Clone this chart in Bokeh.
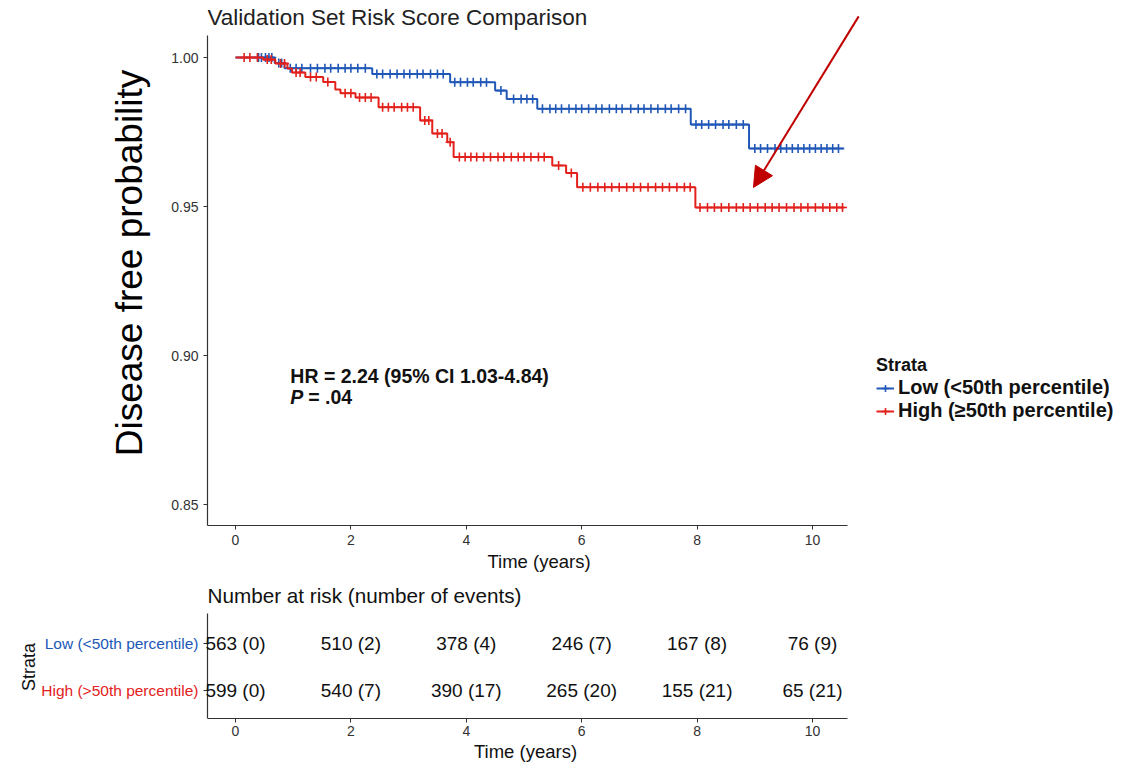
import numpy as np
from math import pi
from bokeh.plotting import figure
from bokeh.models import (Label, Arrow, NormalHead, Legend, LegendItem, Range1d,
                          FixedTicker)
from bokeh.layouts import column, row
from bokeh.embed import file_html
from bokeh.resources import INLINE
from bokeh.core.properties import value

FONT = "Liberation Sans"
BLUE = "#2158B8"
RED = "#E3211C"

# ---------------- data ----------------
low_times = [0, 0.68, 0.85, 2.37, 3.72, 4.50, 4.70, 5.23, 7.89, 8.90]
low_surv = [1.0, 0.9982, 0.9964, 0.9945, 0.9917, 0.9889, 0.9861, 0.9828, 0.9775, 0.9695]
high_times = [0, 0.48, 0.69, 0.90, 0.98, 1.21, 1.52, 1.73, 1.82, 2.08, 2.48, 3.20,
              3.41, 3.67, 3.78, 5.49, 5.73, 5.92, 7.97]
high_surv = [1.0, 0.9993, 0.998, 0.9963, 0.995, 0.9935, 0.9918, 0.9893, 0.988, 0.9866,
             0.9833, 0.9789, 0.9745, 0.9716, 0.9666, 0.9638, 0.9613, 0.9565, 0.9497]
follow_end = 10.55

low_censor = [0.40, 0.45, 0.52, 0.58, 0.63, 0.75, 0.80, 0.95, 1.05, 1.15, 1.30, 1.42,
              1.55, 1.65, 1.78, 1.90, 2.00, 2.12, 2.25, 2.45, 2.55, 2.68, 2.80, 2.92,
              3.02, 3.15, 3.25, 3.38, 3.50, 3.60, 3.80, 3.90, 4.02, 4.12, 4.25, 4.35,
              4.60, 4.82, 4.95, 5.05, 5.15, 5.32, 5.45, 5.55, 5.65, 5.78, 5.90, 6.00,
              6.12, 6.25, 6.35, 6.48, 6.60, 6.70, 6.85, 6.98, 7.08, 7.20, 7.32, 7.45,
              7.55, 7.68, 7.80, 7.98, 8.08, 8.20, 8.32, 8.45, 8.55, 8.68, 8.80, 9.00,
              9.10, 9.22, 9.35, 9.45, 9.55, 9.65, 9.75, 9.85, 9.95, 10.05, 10.15,
              10.25, 10.35, 10.45]
high_censor = [0.15, 0.25, 0.38, 0.55, 0.62, 0.78, 0.85, 1.05, 1.12, 1.30, 1.40, 1.60,
               1.90, 2.00, 2.15, 2.25, 2.35, 2.55, 2.65, 2.75, 2.88, 2.98, 3.08, 3.28,
               3.35, 3.50, 3.58, 3.72, 3.88, 3.98, 4.08, 4.18, 4.30, 4.42, 4.55, 4.65,
               4.78, 4.90, 5.00, 5.12, 5.25, 5.35, 5.60, 5.82, 6.02, 6.15, 6.28, 6.40,
               6.52, 6.65, 6.78, 6.90, 7.02, 7.15, 7.28, 7.40, 7.52, 7.65, 7.78, 7.88,
               8.05, 8.18, 8.30, 8.42, 8.55, 8.68, 8.80, 8.92, 9.05, 9.18, 9.30, 9.42,
               9.55, 9.68, 9.80, 9.92, 10.05, 10.18, 10.30, 10.42, 10.52]

strata_labels = ["Low (<50th percentile)", "High (\u226550th percentile)"]
table_labels = ["Low (<50th percentile)", "High (>50th percentile)"]
risk_times = [0, 2, 4, 6, 8, 10]
low_at_risk = [563, 510, 378, 246, 167, 76]
low_events = [0, 2, 4, 7, 8, 9]
high_at_risk = [599, 540, 390, 265, 155, 65]
high_events = [0, 7, 17, 20, 21, 21]
x_ticks = [0, 2, 4, 6, 8, 10]
y_ticks = [0.85, 0.90, 0.95, 1.00]
main_title = "Validation Set Risk Score Comparison"
table_title = "Number at risk (number of events)"
hr_text = "HR = 2.24 (95% CI 1.03-4.84)"
p_text = "= .04"

# axis extents (data units)
X_LO, X_HI = -0.485, 10.6
Y_LO, Y_HI = 0.843, 1.0074
PX_PER_YEAR = 57.7


def style_axis(ax):
    ax.axis_line_color = "#333333"
    ax.axis_line_width = 1.2
    ax.major_tick_line_color = "#333333"
    ax.major_tick_in = 0
    ax.major_tick_out = 4
    ax.minor_tick_line_color = None
    ax.major_label_text_font = FONT
    ax.major_label_text_font_size = "14px"
    ax.major_label_text_color = "#333333"
    ax.axis_label_text_font = FONT
    ax.axis_label_text_font_style = "normal"
    ax.axis_label_text_color = "#111111"


# ---------------- main KM plot ----------------
p1 = figure(title=None, frame_width=663, frame_height=525,
            x_range=Range1d(X_LO, 11.005), y_range=Range1d(Y_LO, 1.01913),
            output_backend="svg", toolbar_location=None,
            min_border_left=207, min_border_top=0, min_border_bottom=57,
            min_border_right=0)
p1.xgrid.visible = False
p1.ygrid.visible = False
p1.outline_line_color = None
style_axis(p1.xaxis[0])
style_axis(p1.yaxis[0])
p1.xaxis.bounds = (X_LO, X_HI)
p1.yaxis.bounds = (Y_LO, Y_HI)
p1.xaxis.ticker = FixedTicker(ticks=x_ticks)
p1.yaxis.ticker = FixedTicker(ticks=y_ticks)
p1.yaxis.major_label_overrides = {t: f"{t:.2f}" for t in y_ticks}
p1.xaxis.axis_label = "Time (years)"
p1.xaxis.axis_label_text_font_size = "18.5px"
p1.xaxis.axis_label_standoff = 3
p1.xaxis.major_label_standoff = 5
p1.yaxis.axis_label = "Disease free probability"
p1.yaxis.axis_label_text_font_size = "37px"
p1.yaxis.axis_label_text_color = "#000000"
p1.yaxis.axis_label_standoff = 18
p1.yaxis.major_label_standoff = 5

p1.add_layout(Label(x=X_LO, y=1.01342, text=main_title, text_font=FONT,
                    text_font_size="22.5px", text_baseline="middle",
                    text_color="#222222"))

renderers = {}
for name, times, surv, cens, col in (("low", low_times, low_surv, low_censor, BLUE),
                                      ("high", high_times, high_surv, high_censor, RED)):
    xs = list(times) + [follow_end]
    ys = list(surv) + [surv[-1]]
    line_r = p1.step(xs, ys, mode="after", line_color=col, line_width=2)
    idx = np.searchsorted(np.array(times), np.array(cens), side="right") - 1
    cy = np.array(surv)[idx]
    cross_r = p1.scatter(cens, cy, marker="cross", size=9, line_color=col,
                         line_width=1.6)
    renderers[name] = (line_r, cross_r)

legend = Legend(items=[LegendItem(label=strata_labels[0], renderers=list(renderers["low"])),
                       LegendItem(label=strata_labels[1], renderers=list(renderers["high"]))],
                title="Strata", location=(6, 103))
legend.title_text_font = FONT
legend.title_text_font_size = "18px"
legend.title_text_font_style = "bold"
legend.title_text_color = "#111111"
legend.label_text_font = FONT
legend.label_text_font_size = "20px"
legend.label_text_font_style = "bold"
legend.label_text_color = "#111111"
legend.border_line_color = None
legend.background_fill_alpha = 0
legend.glyph_width = 18
legend.glyph_height = 18
legend.label_standoff = 4
legend.spacing = 0
legend.padding = 0
legend.margin = 0
legend.title_standoff = 0
p1.add_layout(legend, "right")

p1.add_layout(Label(x=0.95, y=0.8933, text=hr_text, text_font=FONT,
                    text_font_size="19.5px", text_font_style="bold",
                    text_baseline="middle", text_color="#111111"))
p1.add_layout(Label(x=0.95, y=0.8862, text="P", text_font=FONT,
                    text_font_size="19.5px", text_font_style="bold italic",
                    text_baseline="middle", text_color="#111111"))
p1.add_layout(Label(x=0.95 + 18 / PX_PER_YEAR, y=0.8862, text=p_text, text_font=FONT,
                    text_font_size="19.5px", text_font_style="bold",
                    text_baseline="middle", text_color="#111111"))

p1.add_layout(Arrow(end=NormalHead(size=20, fill_color="#C00000", line_color="#C00000"),
                    x_start=10.80, y_start=1.0138, x_end=8.977, y_end=0.9564,
                    line_color="#C00000", line_width=2))

# ---------------- risk table ----------------
T_LO, T_TOP_AXIS = 0.404, 2.638
p2 = figure(title=None, frame_width=1050, frame_height=136,
            x_range=Range1d(X_LO - 207 / PX_PER_YEAR, 14.125),
            y_range=Range1d(T_LO, 3.298),
            y_axis_location=None,
            output_backend="svg", toolbar_location=None,
            min_border_left=0, min_border_top=0, min_border_bottom=0,
            min_border_right=0)
p2.xgrid.visible = False
p2.ygrid.visible = False
p2.outline_line_color = None
style_axis(p2.xaxis[0])
p2.xaxis.bounds = (X_LO, X_HI)
p2.xaxis.ticker = FixedTicker(ticks=x_ticks)
p2.xaxis.axis_label = "Time (years)"
p2.xaxis.axis_label_text_font_size = "18.5px"
p2.xaxis.axis_label_standoff = 2
p2.xaxis.major_label_standoff = 3

# left axis line of the table with ticks at the two strata rows
tick_len = 4 / PX_PER_YEAR
p2.segment(x0=[X_LO], y0=[T_LO], x1=[X_LO], y1=[T_TOP_AXIS],
           line_color="#333333", line_width=1.2)
p2.segment(x0=[X_LO - tick_len] * 2, y0=[2, 1], x1=[X_LO] * 2, y1=[2, 1],
           line_color="#333333", line_width=1.2)

p2.add_layout(Label(x=X_LO, y=3.021, text=table_title, text_font=FONT,
                    text_font_size="20.7px", text_baseline="middle",
                    text_color="#111111"))

for row_y, counts, events in ((2, low_at_risk, low_events), (1, high_at_risk, high_events)):
    p2.text(x=risk_times, y=[row_y] * len(risk_times),
            text=[f"{n} ({e})" for n, e in zip(counts, events)],
            text_align="center", text_baseline="middle",
            text_font=value(FONT), text_font_size="19px", text_color="#111111")

p2.add_layout(Label(x=X_LO - 9 / PX_PER_YEAR, y=2, text=table_labels[0], text_align="right",
                    text_baseline="middle", text_font=FONT, text_font_size="15.5px",
                    text_color=BLUE))
p2.add_layout(Label(x=X_LO - 9 / PX_PER_YEAR, y=1, text=table_labels[1], text_align="right",
                    text_baseline="middle", text_font=FONT, text_font_size="15.5px",
                    text_color=RED))
p2.add_layout(Label(x=X_LO - 179 / PX_PER_YEAR, y=1.5, text="Strata", angle=pi / 2,
                    text_align="center", text_baseline="middle", text_font=FONT,
                    text_font_size="18px", text_color="#111111"))

layout = column(p1, row(p2), spacing=0)
open("out.html", "w").write(file_html(layout, INLINE))
